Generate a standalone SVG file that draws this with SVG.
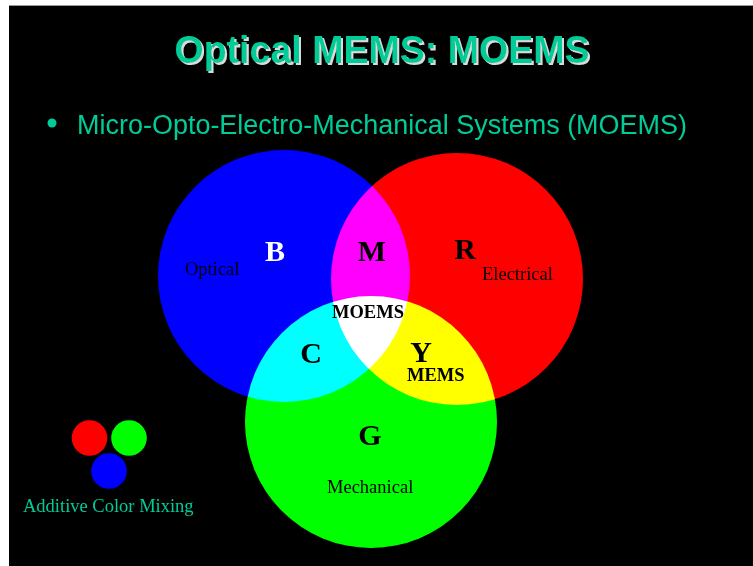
<svg xmlns="http://www.w3.org/2000/svg" width="753" height="566" viewBox="0 0 753 566">
<style>
.title{font-family:"Liberation Sans",Arial,sans-serif;font-weight:bold;font-size:38px;text-anchor:middle;fill:#00CC99}
.sub{font-family:"Liberation Sans",Arial,sans-serif;font-size:27px;fill:#00CC99}
.lbl{font-family:"Liberation Serif","Times New Roman",serif;font-size:18.5px;fill:#000}
.big{font-family:"Liberation Serif","Times New Roman",serif;font-size:30px;font-weight:bold;text-anchor:middle;fill:#000}
.bold{font-weight:bold}
.mix{mix-blend-mode:screen}
</style>
<defs>
<filter id="shadow" x="-5%" y="-20%" width="110%" height="140%">
<feFlood flood-color="#DADADA"/>
<feComposite in2="SourceAlpha" operator="in"/>
<feOffset dx="1.5" dy="1.5" result="sh"/>
<feMerge><feMergeNode in="sh"/><feMergeNode in="SourceGraphic"/></feMerge>
</filter>
</defs>
<rect x="0" y="0" width="753" height="566" fill="#fff"/>
<line x1="9" y1="5.5" x2="753" y2="5.5" stroke="#999" stroke-width="1"/>
<rect x="9" y="6" width="744" height="560" fill="#000"/>
<g id="title">
<text class="title" x="382" y="63" filter="url(#shadow)" textLength="415" lengthAdjust="spacingAndGlyphs">Optical MEMS: MOEMS</text>
</g>
<g id="bullet">
<circle cx="52" cy="123" r="4.5" fill="#00CC99"/>
<text class="sub" x="77" y="134" textLength="610" lengthAdjust="spacingAndGlyphs">Micro-Opto-Electro-Mechanical Systems (MOEMS)</text>
</g>
<g id="venn" style="isolation:isolate">
<circle id="blue" class="mix" cx="284" cy="276" r="126" fill="#0000FF"/>
<circle id="red" class="mix" cx="457" cy="279" r="126" fill="#FF0000"/>
<circle id="green" class="mix" cx="371" cy="422" r="126" fill="#00FF00"/>
</g>
<g id="labels">
<text class="big" x="275" y="261" style="fill:#fff">B</text>
<text class="big" x="372" y="261">M</text>
<text class="big" x="465" y="259">R</text>
<text class="big" x="311" y="363">C</text>
<text class="big" x="421" y="362">Y</text>
<text class="big" x="370" y="445">G</text>
<text class="lbl" x="185" y="275">Optical</text>
<text class="lbl" x="482" y="280">Electrical</text>
<text class="lbl bold" x="332" y="318">MOEMS</text>
<text class="lbl bold" x="407" y="381">MEMS</text>
<text class="lbl" x="327" y="493">Mechanical</text>
</g>
<g id="legend">
<circle cx="89.5" cy="438" r="17.8" fill="#FF0000"/>
<circle cx="129" cy="438" r="17.8" fill="#00FF00"/>
<circle cx="109" cy="471" r="17.8" fill="#0000FF"/>
<text class="lbl" x="23" y="512" style="fill:#00CC99">Additive Color Mixing</text>
</g>
</svg>
